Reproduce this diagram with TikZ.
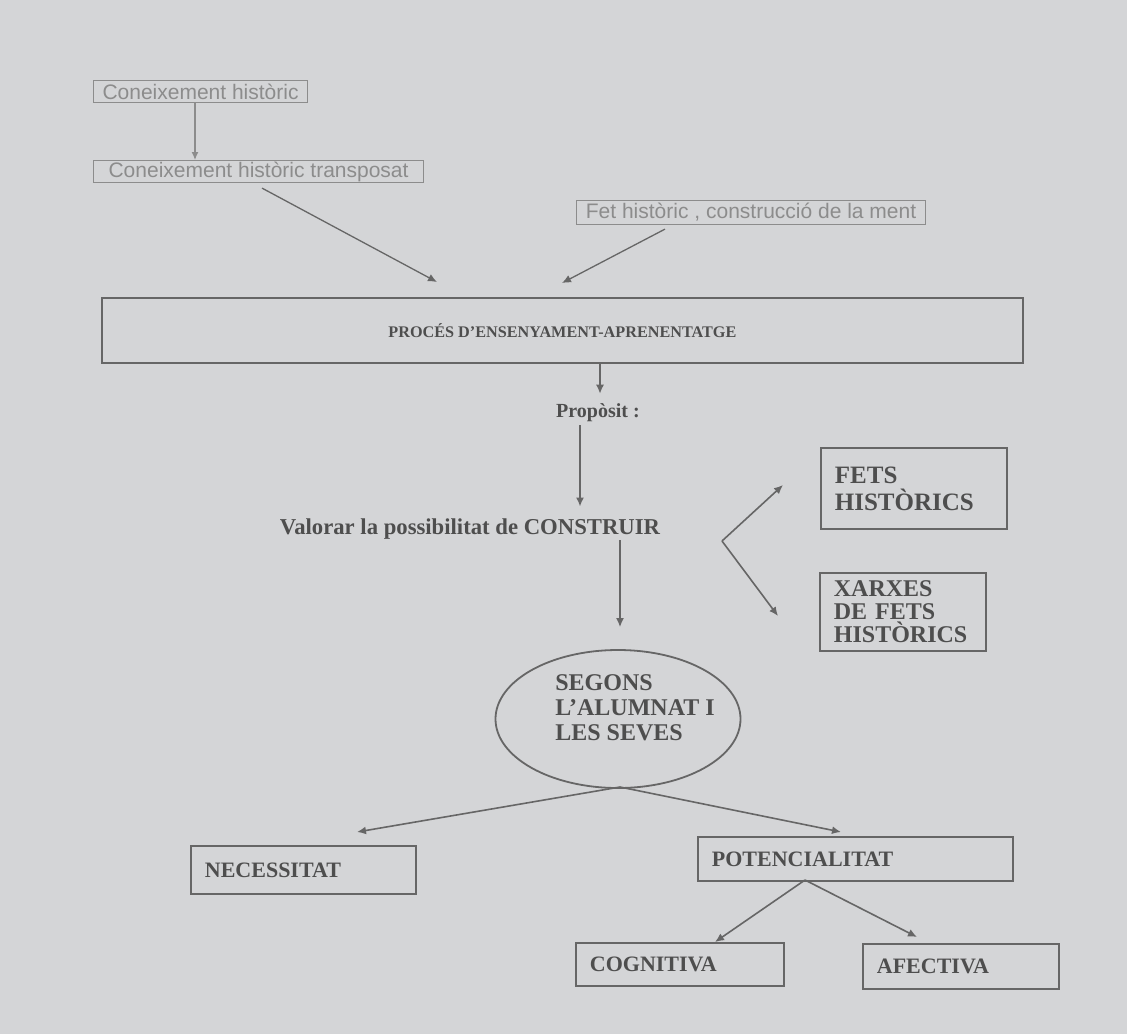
\documentclass[tikz,border=0pt]{standalone}
\usepackage{fontspec}
\setmainfont{Liberation Serif}
\newfontfamily\arialf{Liberation Sans}
\usetikzlibrary{shapes.geometric,arrows.meta,calc}
\definecolor{bgc}{HTML}{D4D5D7}
\definecolor{lnc}{HTML}{666666}
\definecolor{txc}{HTML}{4E4E4E}
\definecolor{ltc}{HTML}{8C8C8C}
\tikzset{
  arr/.style={draw=lnc, line width=1.6pt, -{Latex[length=9pt,width=8pt]}},
  larr/.style={draw=ltc, line width=1.2pt, -{Latex[length=8pt,width=7pt]}},
  topbox/.style={draw=ltc, line width=1.1pt, font=\arialf\fontsize{21}{24}\selectfont, text=ltc, inner xsep=2pt, inner ysep=0pt, anchor=north west},
  bx/.style={draw=lnc, line width=1.8pt, anchor=north west, align=left, inner xsep=14pt, inner ysep=0pt, font=\bfseries\fontsize{22}{25}\selectfont, text=txc},
  plain/.style={font=\bfseries\fontsize{22}{25}\selectfont, text=txc, inner sep=0pt}
}
\begin{document}
\begin{tikzpicture}[x=1pt,y=-1pt]
\fill[bgc] (0,0) rectangle (1127,1034);
\useasboundingbox (0,0) rectangle (1127,1034);

% top boxes
\node[topbox, minimum width=214pt, minimum height=22pt] (con1) at (93,80) {Coneixement històric};
\node[topbox, minimum width=330pt, minimum height=22pt] (con2) at (93,160) {Coneixement històric transposat};
\node[topbox, minimum width=349pt, minimum height=24pt] (fet) at (576,200) {Fet històric , construcció de la ment};

% big box
\node[draw=lnc, line width=1.8pt, minimum width=921pt, minimum height=65pt, anchor=north west, font=\bfseries\fontsize{16.2}{19}\selectfont, text=txc] (proc) at (101,297) {PROCÉS D'ENSENYAMENT-APRENENTATGE};

% labels
\node[font=\bfseries\fontsize{20}{24}\selectfont, text=txc, inner sep=0pt] (prop) at (598,413) {Propòsit :};
\node[font=\bfseries\fontsize{22.7}{26}\selectfont, text=txc, inner sep=0pt] (val) at (470,529) {Valorar la possibilitat de CONSTRUIR};

% right boxes
\node[bx, text width=158pt, minimum height=81pt, font=\bfseries\fontsize{25}{27}\selectfont] (fets) at (820,447) {FETS\\HISTÒRICS};
\node[bx, text width=138pt, minimum height=78pt, font=\bfseries\fontsize{24}{23}\selectfont] (xar) at (819,572) {XARXES\\DE FETS\\HISTÒRICS};

% ellipse
\node[draw=lnc, line width=1.8pt, ellipse, minimum width=245pt, minimum height=138pt] (seg) at (618,719) {};
\node[plain, align=left, font=\bfseries\fontsize{24}{25}\selectfont] (segtxt) at ($(seg.center)+(17,-11)$) {SEGONS\\L'ALUMNAT I\\LES SEVES};

% bottom boxes
\node[bx, text width=197pt, minimum height=48pt] (nec) at (190,845) {NECESSITAT};
\node[bx, text width=287pt, minimum height=44pt] (pot) at (697,836) {POTENCIALITAT};
\node[bx, text width=180pt, minimum height=43pt] (cog) at (575,942) {COGNITIVA};
\node[bx, text width=168pt, minimum height=45pt] (afe) at (862,943) {AFECTIVA};

% helper coordinates
\coordinate (c1s) at ($(con1.south west)+(102,0)$);
\coordinate (c2s) at ($(con2.south west)+(169,5)$);
\coordinate (t1) at (437,282);
\coordinate (fs) at ($(fet.south west)+(89,4)$);
\coordinate (t2) at (562,283);
\coordinate (ps) at ($(proc.south west)+(499,0)$);
\coordinate (vs) at (620,540);
\coordinate (v) at (722,541);
\coordinate (tf) at (783,485);
\coordinate (tx) at (778,616);
\coordinate (es) at (620,787);
\coordinate (tn) at (357,832);
\coordinate (tp) at (841,832);
\coordinate (pb) at (805,880);
\coordinate (tc) at (715,942);
\coordinate (ta) at (917,937);

% connectors
\draw[larr] (c1s) -- (c1s |- con2.north);
\draw[arr, line width=1.3pt] (c2s) -- (t1);
\draw[arr, line width=1.3pt] (fs) -- (t2);
\draw[arr] (ps) -- ($(prop.north)+(2,-10)$);
\draw[arr] ($(prop.south)+(-18,3)$) -- ($(val.north)+(110,-12)$);
\draw[arr] (vs) -- ($(seg.north)+(2,-22)$);
\draw[arr] (v) -- (tx);
\draw[arr] (v) -- (tf);
\draw[arr] (es) -- (tn);
\draw[arr] (es) -- (tp);
\draw[arr] (pb) -- (tc);
\draw[arr] (pb) -- (ta);
\end{tikzpicture}
\end{document}
